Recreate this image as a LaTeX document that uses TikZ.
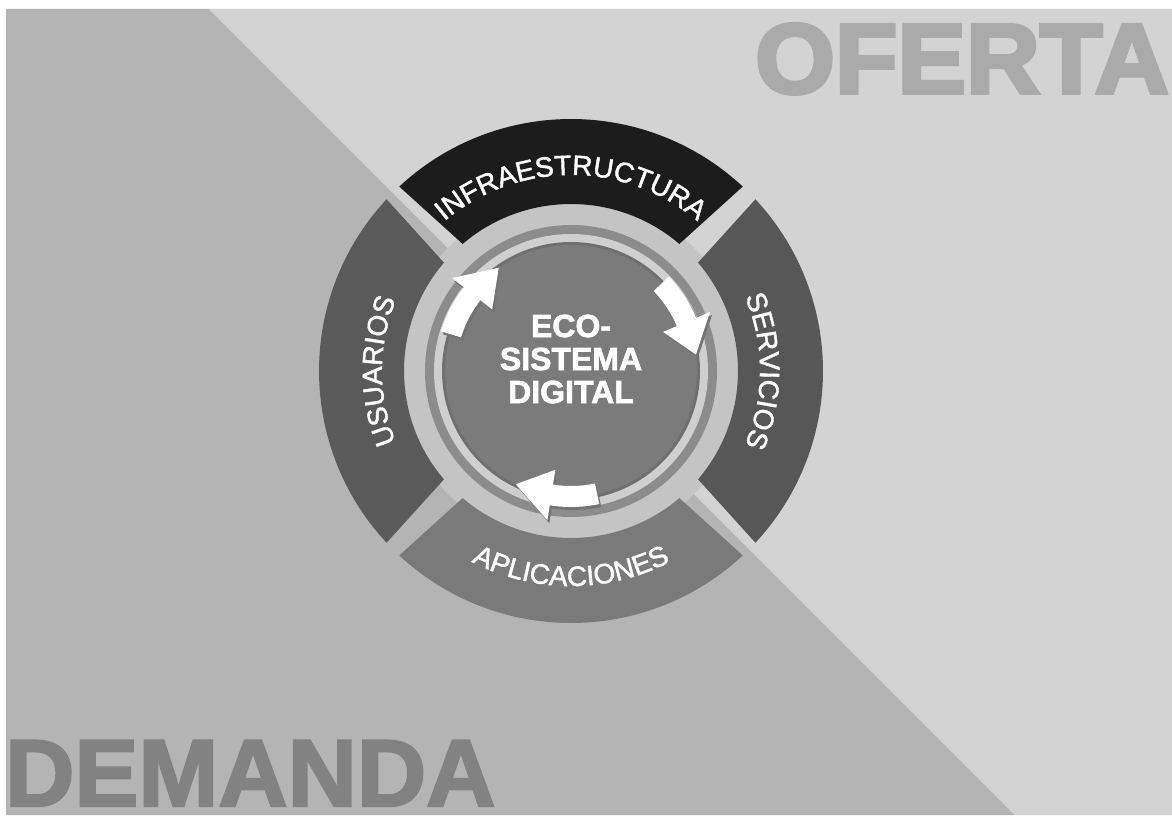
\documentclass[tikz,border=0pt]{standalone}
\usepackage{fontspec}
\setmainfont{Liberation Sans}
\newfontfamily\heavyfont[BoldFeatures={FakeBold=4,FakeStretch=1.035}]{Liberation Sans}
\newfontfamily\heavyfontB[BoldFeatures={FakeBold=2.5,FakeStretch=1.01}]{Liberation Sans}
\newfontfamily\segfont[FakeBold=1.5]{Liberation Sans}
\newfontfamily\centerfont[BoldFeatures={FakeBold=2}]{Liberation Sans}
\usetikzlibrary{decorations.text}
\definecolor{bgdark}{HTML}{B4B4B4}
\definecolor{bglight}{HTML}{D3D3D3}
\definecolor{ofertacol}{HTML}{AAAAAA}
\definecolor{demandacol}{HTML}{828282}
\definecolor{platecol}{HTML}{C4C4C4}
\definecolor{infracol}{HTML}{1C1C1C}
\definecolor{usucol}{HTML}{5A5A5A}
\definecolor{servcol}{HTML}{575757}
\definecolor{aplicol}{HTML}{7A7A7A}
\definecolor{disccol}{HTML}{7B7B7B}
\definecolor{ringdark}{HTML}{8C8C8C}
\definecolor{rimlight}{HTML}{CFCFCF}
\newcommand\ecoseg[5]{%
  \fill[#5] (#1:252pt) arc[start angle=#1, end angle=#2, radius=252pt]
    -- (#4:167pt) arc[start angle=#4, end angle=#3, radius=167pt] -- cycle;}
\newcommand\ecoarrow[4]{%
  \fill[#4] (#1:115pt) arc[start angle=#1, end angle=#2, radius=115pt]
    -- (#2:100pt) -- (#3:126pt) -- (#2:151pt) -- (#2:136pt)
    arc[start angle=#2, end angle=#1, radius=136pt] -- cycle;}
\tikzset{
  bigword/.style={inner sep=0pt},
  centertext/.style={inner sep=0pt, text=white, align=center,
    font=\centerfont\bfseries\fontsize{32}{33}\selectfont},
  segtext/.style={decorate, decoration={text along path, text align=center, text={#1}}}
}
\begin{document}
\begin{tikzpicture}[x=1pt,y=1pt]
\useasboundingbox (0,0) rectangle (1172,815);
\fill[white] (0,0) rectangle (1172,815);
\fill[bgdark] (6,0) -- (6,806) -- (209,806) -- (1015,0) -- cycle;
\fill[bglight] (209,806) -- (1172,806) -- (1172,0) -- (1015,0) -- cycle;
\node[bigword, text=ofertacol, anchor=base west, font=\heavyfont\bfseries\fontsize{99}{99}\selectfont] (oferta) at (755,722) {OFERTA};
\node[bigword, text=demandacol, anchor=base west, font=\heavyfontB\bfseries\fontsize{95}{95}\selectfont] (demanda) at (5,9) {DEMANDA};
\begin{scope}[shift={(571,444)}]
  \fill[platecol] (0,0) circle[radius=174pt];
  % segments
  \ecoseg{47.04}{132.96}{49.54}{130.46}{infracol}
  \ecoseg{137.04}{222.96}{139.54}{220.46}{usucol}
  \ecoseg{227.04}{312.96}{229.54}{310.46}{aplicol}
  \ecoseg{-42.96}{42.96}{-40.46}{40.46}{servcol}
  % inner disc
  \fill[ringdark] (0,0) circle[radius=146pt];
  \fill[rimlight] (0,0) circle[radius=137pt];
  \fill[disccol!90!black] (0,0) circle[radius=129pt];
  \fill[disccol] (0,0) circle[radius=126pt];
  % arrows (shadow then white)
  \begin{scope}[shift={(2,-3)}]
    \ecoarrow{163}{142}{125}{black!55}
    \ecoarrow{44}{23}{7.5}{black!55}
    \ecoarrow{-78}{-99}{-116}{black!55}
  \end{scope}
  \ecoarrow{163}{142}{125}{white}
  \ecoarrow{44}{23}{7.5}{white}
  \ecoarrow{-78}{-99}{-116}{white}
  % segment labels
  \path[segtext={|\segfont\fontsize{28}{28}\selectfont\color{white}|INFRAESTRUCTURA}]
    (140:196pt) arc[start angle=140, end angle=40, radius=196pt];
  \path[segtext={|\segfont\fontsize{28}{28}\selectfont\color{white}|USUARIOS}]
    (230:189pt) arc[start angle=230, end angle=130, radius=189pt];
  \path[segtext={|\segfont\fontsize{28}{28}\selectfont\color{white}|SERVICIOS}]
    (50:189pt) arc[start angle=50, end angle=-50, radius=189pt];
  \path[segtext={|\segfont\fontsize{28}{28}\selectfont\color{white}|APLICACIONES}]
    (220:215pt) arc[start angle=220, end angle=320, radius=215pt];
  \node[centertext] (eco) at (0,12) {ECO-\\SISTEMA\\DIGITAL};
\end{scope}
\end{tikzpicture}
\end{document}
